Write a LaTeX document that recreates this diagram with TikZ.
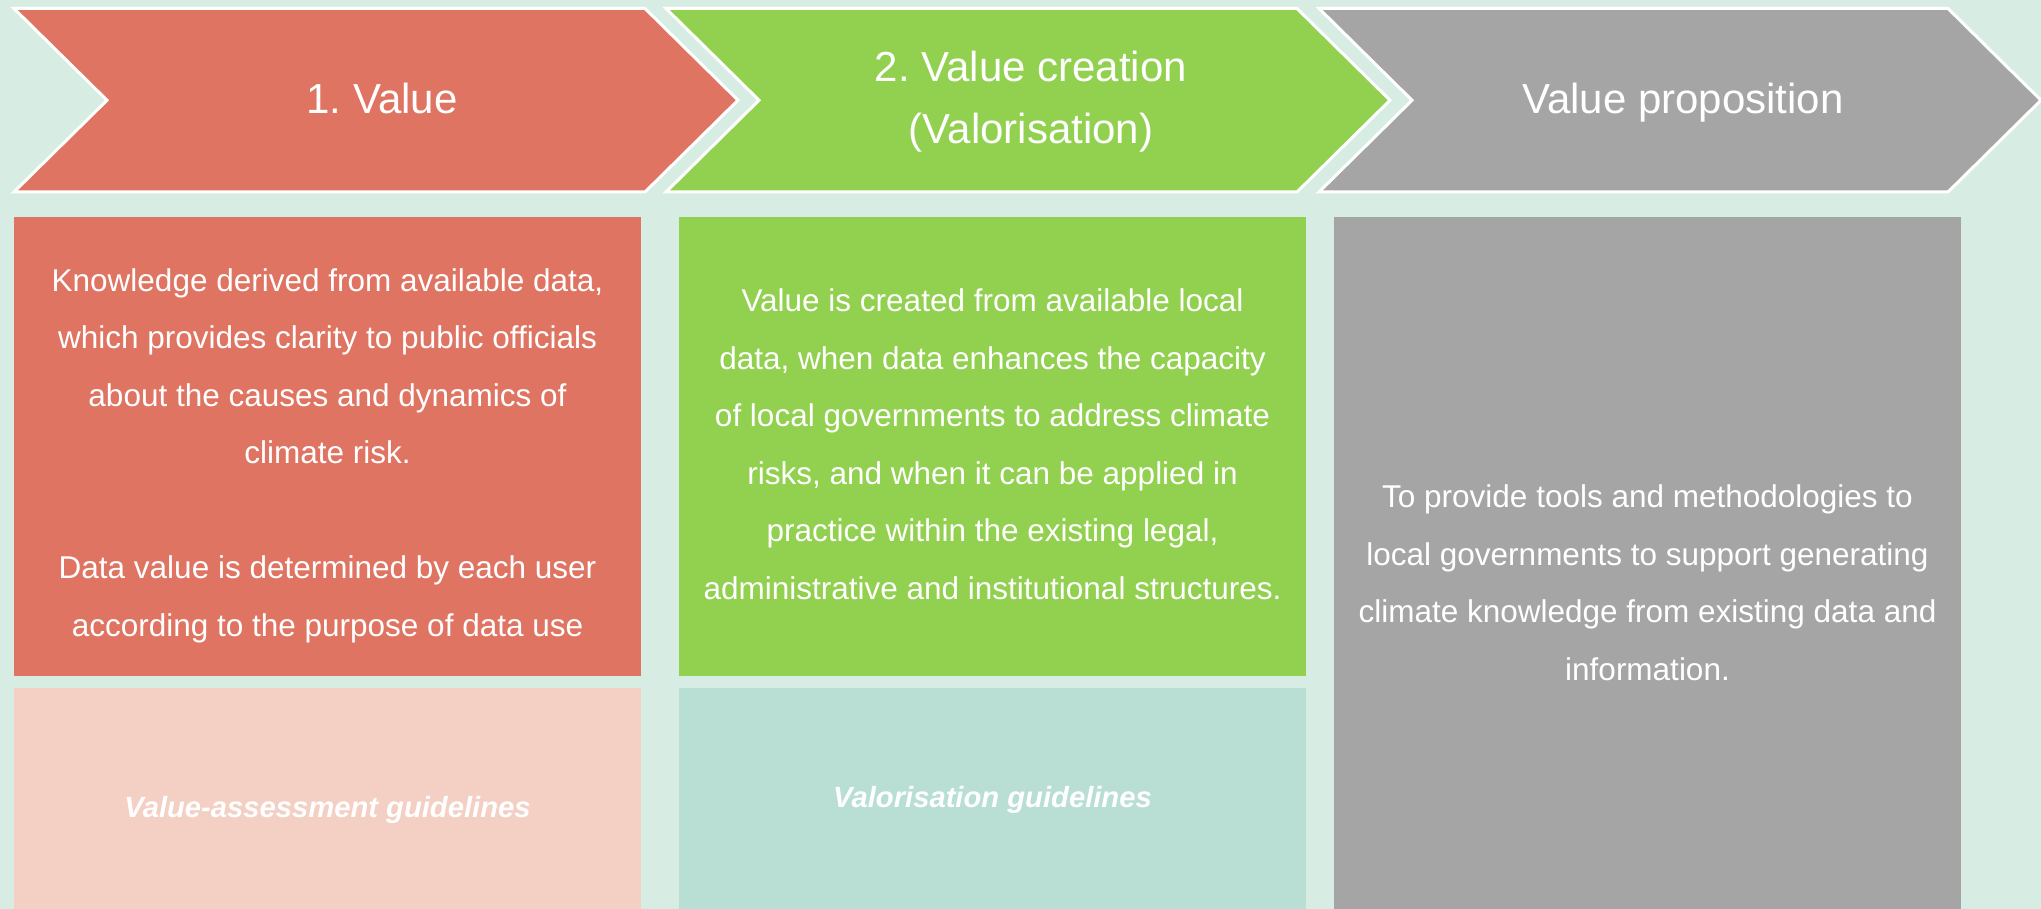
\documentclass[tikz,border=0pt]{standalone}
\usepackage{fontspec}
\setmainfont{Liberation Sans}
\frenchspacing
\definecolor{bgc}{HTML}{D7ECE3}
\definecolor{redc}{HTML}{DF7462}
\definecolor{greenc}{HTML}{92D050}
\definecolor{grayc}{HTML}{A5A5A5}
\definecolor{pinkc}{HTML}{F3CFC4}
\definecolor{tealc}{HTML}{B9DFD5}
\begin{document}
\begin{tikzpicture}[x=0.5pt,y=-0.5pt,
  chev/.style={draw=white, line width=1.5pt, line join=miter},
  hdr/.style={text=white, font=\fontsize{21}{31}\selectfont\frenchspacing, align=center, inner sep=0pt, anchor=base},
  bodytext/.style={text=white, font=\fontsize{15.75}{28.75}\selectfont\frenchspacing, align=center, inner sep=0pt, anchor=base},
  guide/.style={text=white, font=\fontsize{14.6}{18}\selectfont\bfseries\itshape, inner sep=0pt, anchor=base},
  panel/.style={inner sep=0pt, outer sep=0pt, anchor=north west, minimum width=313.5pt}]
\useasboundingbox (0,0) rectangle (2041,909);
\fill[bgc] (0,0) rectangle (2041,909);
% chevrons
\filldraw[chev, fill=redc] (14,8.5) -- (645,8.5) -- (738,100.25) -- (645,192) -- (14,192) -- (107,100.25) -- cycle;
\filldraw[chev, fill=greenc] (666,8.5) -- (1297,8.5) -- (1390,100.25) -- (1297,192) -- (666,192) -- (759,100.25) -- cycle;
\filldraw[chev, fill=grayc] (1319,8.5) -- (1948,8.5) -- (2041,100.25) -- (1948,192) -- (1319,192) -- (1412,100.25) -- cycle;
\node[hdr] (h1) at (382,114) {1. Value};
\node[hdr] (h2) at (1031,144) {2. Value creation\\(Valorisation)};
\node[hdr] (h3) at (1683,114) {Value proposition};
% panels
\node[panel, fill=redc, minimum height=229.5pt] (p1) at (14,217) {};
\node[panel, fill=pinkc, minimum height=110.5pt] (g1) at (14,688) {};
\node[panel, fill=greenc, minimum height=229.5pt] (p2) at (679,217) {};
\node[panel, fill=tealc, minimum height=110.5pt] (g2) at (679,688) {};
\node[panel, fill=grayc, minimum height=346pt] (p3) at (1334,217) {};
% texts (anchor base = baseline of the last line)
\node[bodytext] (t1) at (327.5,636) {Knowledge derived from available data,\\which provides clarity to public officials\\about the causes and dynamics of\\climate risk.\\[28.75pt]Data value is determined by each user\\according to the purpose of data use};
\node[bodytext] (t2) at (992.5,599) {Value is created from available local\\data, when data enhances the capacity\\of local governments to address climate\\risks, and when it can be applied in\\practice within the existing legal,\\administrative and institutional structures.};
\node[bodytext] (t3) at (1647.5,680) {To provide tools and methodologies to\\local governments to support generating\\climate knowledge from existing data and\\information.};
\node[guide] (l1) at (327.5,817) {Value-assessment guidelines};
\node[guide] (l2) at (992.5,807) {Valorisation guidelines};
\end{tikzpicture}
\end{document}
